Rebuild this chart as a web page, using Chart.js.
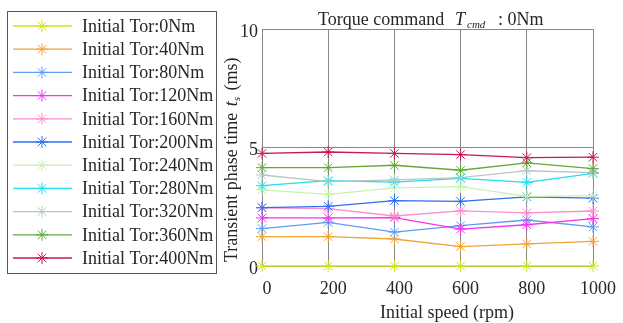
<!DOCTYPE html>
<html>
<head>
<meta charset="utf-8">
<script src="https://cdn.jsdelivr.net/npm/chart.js@4/dist/chart.umd.min.js"></script>
<style>
html,body{margin:0;padding:0;background:#fff;}
#wrap{width:623px;height:323px;}
</style>
</head>
<body>
<div id="wrap"><canvas id="c" width="623" height="323"></canvas></div>
<script>
const speeds = [0, 200, 400, 600, 800, 1000];
const seriesNames = ['Initial Tor:0Nm','Initial Tor:40Nm','Initial Tor:80Nm','Initial Tor:120Nm','Initial Tor:160Nm','Initial Tor:200Nm','Initial Tor:240Nm','Initial Tor:280Nm','Initial Tor:320Nm','Initial Tor:360Nm','Initial Tor:400Nm'];
const tor0   = [0, 0, 0, 0, 0, 0];
const tor40  = [1.24, 1.24, 1.14, 0.82, 0.93, 1.04];
const tor80  = [1.58, 1.84, 1.43, 1.70, 1.94, 1.65];
const tor120 = [2.03, 2.03, 2.04, 1.56, 1.74, 2.00];
const tor160 = [2.45, 2.42, 2.11, 2.33, 2.24, 2.32];
const tor200 = [2.46, 2.52, 2.76, 2.73, 2.92, 2.86];
const tor240 = [3.21, 3.02, 3.30, 3.35, 2.94, 2.97];
const tor280 = [3.39, 3.60, 3.54, 3.70, 3.53, 3.91];
const tor320 = [3.84, 3.56, 3.63, 3.73, 4.02, 3.94];
const tor360 = [4.15, 4.15, 4.25, 4.04, 4.35, 4.11];
const tor400 = [4.75, 4.81, 4.75, 4.70, 4.57, 4.59];
const yTicks = [0, 5, 10];
const xTicks = [0, 200, 400, 600, 800, 1000];
const colors = ['#cfe41e','#f0a535','#5d9cf2','#f532ef','#f790cf','#2f6ef0','#c9f2b2','#22dcef','#b6c7c0','#62a83c','#c71a4d'];
const allSeries = [tor0, tor40, tor80, tor120, tor160, tor200, tor240, tor280, tor320, tor360, tor400];

const FONT = "'Liberation Serif', 'Times New Roman', serif";
const TXT = '#262626';

const datasets = allSeries.map((vals, i) => ({
  label: seriesNames[i],
  data: vals.map((v, j) => ({x: speeds[j], y: v})),
  borderColor: colors[i],
  backgroundColor: colors[i],
  borderWidth: 1.3,
  pointStyle: 'star',
  pointRadius: 6,
  pointBorderWidth: 1,
  pointBorderColor: colors[i],
  pointHoverRadius: 6,
  tension: 0,
  clip: false,
  order: allSeries.length - i
}));

const decor = {
  id: 'decor',
  afterDraw(chart) {
    const ctx = chart.ctx;
    ctx.save();
    // Legend
    ctx.strokeStyle = '#555';
    ctx.lineWidth = 1;
    ctx.strokeRect(7.5, 11.5, 209, 262);
    chart.data.datasets.forEach((ds, i) => {
      const y = 26 + i * 23.2;
      ctx.strokeStyle = ds.borderColor;
      ctx.lineWidth = 1.3;
      ctx.beginPath(); ctx.moveTo(13, y); ctx.lineTo(72, y); ctx.stroke();
      ctx.lineWidth = 1;
      Chart.helpers.drawPoint(ctx, {pointStyle: 'star', radius: 6, rotation: 0, borderWidth: 1}, 42, y);
      ctx.fillStyle = TXT;
      ctx.font = '18px ' + FONT;
      ctx.textBaseline = 'middle';
      ctx.textAlign = 'left';
      ctx.fillText(ds.label, 82, y + 1);
    });
    // Title
    ctx.fillStyle = TXT;
    ctx.textBaseline = 'alphabetic';
    ctx.textAlign = 'left';
    ctx.font = '18px ' + FONT;
    ctx.fillText('Torque command', 318, 25);
    ctx.font = 'italic 18px ' + FONT;
    ctx.fillText('T', 455, 25);
    ctx.font = 'italic 11px ' + FONT;
    ctx.fillText('cmd', 467, 28);
    ctx.font = '18px ' + FONT;
    ctx.fillText(': 0Nm', 498, 25);
    // X axis title
    ctx.textAlign = 'center';
    ctx.fillText('Initial speed (rpm)', 447, 318);
    // Y axis title
    ctx.translate(237, 262);
    ctx.rotate(-Math.PI / 2);
    ctx.textAlign = 'left';
    ctx.font = '18px ' + FONT;
    let p1 = 'Transient phase time ';
    ctx.fillText(p1, 0, 0);
    let x = ctx.measureText(p1).width + 2;
    ctx.font = 'italic 18px ' + FONT;
    ctx.fillText('t', x, 0);
    x += ctx.measureText('t').width;
    ctx.font = 'italic 11px ' + FONT;
    ctx.fillText('s', x, 3);
    x += ctx.measureText('s').width + 2;
    ctx.font = '18px ' + FONT;
    ctx.fillText(' (ms)', x, 0);
    ctx.restore();
  }
};

new Chart(document.getElementById('c'), {
  type: 'line',
  data: { datasets },
  options: {
    responsive: false,
    animation: false,
    devicePixelRatio: 1,
    layout: { padding: { left: 0, top: 29, right: 25, bottom: 0 } },
    plugins: { legend: { display: false }, title: { display: false }, tooltip: { enabled: false } },
    scales: {
      x: {
        type: 'linear', min: 0, max: 1000,
        afterFit: s => { s.height = 57; },
        afterBuildTicks: s => { s.ticks = xTicks.map(v => ({value: v})); },
        grid: { color: '#878787', lineWidth: 1, drawTicks: false },
        border: { display: true, color: '#878787' },
        ticks: { font: { family: FONT, size: 18 }, color: TXT, padding: 12, labelOffset: 5, maxRotation: 0, callback: v => String(v) }
      },
      y: {
        min: 0, max: 10,
        afterFit: s => { s.width = 262; },
        afterBuildTicks: s => { s.ticks = yTicks.map(v => ({value: v})); },
        grid: { color: '#878787', lineWidth: 1, drawTicks: false },
        border: { display: true, color: '#878787' },
        ticks: { font: { family: FONT, size: 18 }, color: TXT, padding: 4, labelOffset: 3, callback: v => String(v) }
      }
    }
  },
  plugins: [decor]
});
</script>
</body>
</html>
